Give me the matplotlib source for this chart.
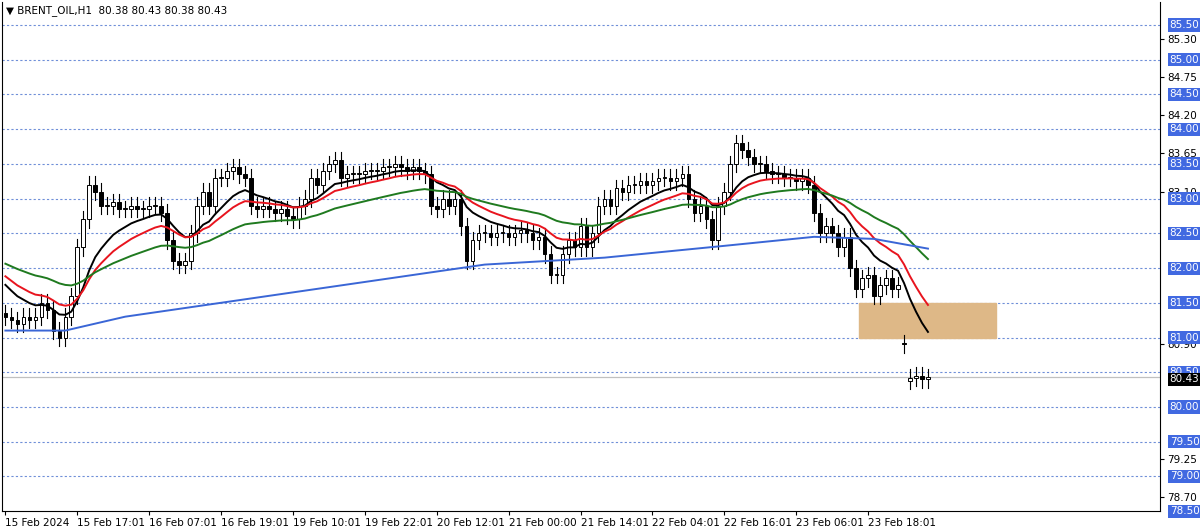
import matplotlib
matplotlib.use("Agg")
import matplotlib.pyplot as plt
from matplotlib.patches import Rectangle
import numpy as np

closes = [81.3,81.25,81.2,81.3,81.25,81.3,81.5,81.4,81.1,81.0,
          81.3,81.6,82.3,82.7,83.2,83.1,82.9,82.9,82.95,82.85,
          82.85,82.9,82.85,82.85,82.9,82.9,82.8,82.4,82.1,82.05,
          82.1,82.5,82.9,83.1,82.9,83.3,83.3,83.4,83.45,83.35,
          83.3,82.9,82.85,82.9,82.85,82.8,82.85,82.75,82.7,82.9,
          83.0,83.3,83.2,83.4,83.5,83.55,83.3,83.35,83.35,83.35,
          83.4,83.4,83.4,83.45,83.45,83.5,83.45,83.4,83.45,83.4,
          83.35,82.9,82.85,83.0,82.9,83.0,82.6,82.1,82.4,82.5,
          82.5,82.45,82.5,82.5,82.45,82.5,82.55,82.5,82.4,82.45,
          82.2,81.9,81.9,82.2,82.4,82.3,82.6,82.3,82.5,82.9,
          83.0,82.9,83.15,83.1,83.2,83.2,83.25,83.2,83.25,83.3,
          83.3,83.25,83.3,83.35,83.0,82.8,82.9,82.7,82.4,82.9,
          83.1,83.5,83.8,83.7,83.6,83.5,83.5,83.4,83.35,83.35,
          83.3,83.3,83.25,83.3,83.2,82.8,82.5,82.6,82.5,82.3,
          82.45,82.0,81.7,81.85,81.9,81.6,81.75,81.85,81.7,81.75,
          80.9,80.42,80.45,80.40,80.43]
opens = [81.35] + closes[:-1]
opens[150] = 80.92
opens[151] = 80.38
wick = 0.12

blue_idx = [0, 10, 20, 40, 60, 80, 100, 120, 135, 145, 154]
blue_val = [81.1, 81.1, 81.3, 81.55, 81.8, 82.05, 82.15, 82.32, 82.45, 82.42, 82.28]

date_labels = ["15 Feb 2024","15 Feb 17:01","16 Feb 07:01","16 Feb 19:01","19 Feb 10:01",
               "19 Feb 22:01","20 Feb 12:01","21 Feb 00:00","21 Feb 14:01","22 Feb 04:01",
               "22 Feb 16:01","23 Feb 06:01","23 Feb 18:01"]

boxed = [85.5,85.0,84.5,84.0,83.5,83.0,82.5,82.0,81.5,81.0,80.5,80.0,79.5,79.0,78.5]
plain = [85.30,84.75,84.20,83.65,83.10,80.90,79.25,78.70]

def ema(vals, span, seed):
    a = 2/(span+1); out=[]; e=seed
    for v in vals:
        e = e + a*(v-e); out.append(e)
    return out

fig = plt.figure(figsize=(12,5.28), dpi=100)
ax = fig.add_axes([0.002, 0.032, 0.965, 0.964])
ax.set_xlim(-0.5, 192.8)
ax.set_ylim(78.5, 85.83)

for lv in boxed[:-1]:
    ax.axhline(lv, color='#6f8fd8', lw=0.8, ls=(0,(2,2)), zorder=0)
ax.axhline(80.43, color='#c0c0c0', lw=0.9, zorder=0)

ax.add_patch(Rectangle((142.5, 81.0), 22.8, 0.5, color='#deb887', zorder=1))

for i,(o,c) in enumerate(zip(opens, closes)):
    hi = max(o,c)+wick; lo = min(o,c)-wick
    ax.plot([i,i],[lo,hi], color='black', lw=0.8, zorder=3)
    bull = c >= o
    h = max(abs(c-o), 0.015)
    ax.add_patch(Rectangle((i-0.3, min(o,c)), 0.6, h, facecolor='white' if bull else 'black',
                           edgecolor='black', lw=0.7, zorder=4))

xs = np.arange(len(closes))
ax.plot(xs, ema(closes, 11, 81.85), color='black', lw=1.4, zorder=5)
ax.plot(xs, ema(closes, 18, 81.95), color='#e8141e', lw=1.4, zorder=5)
ax.plot(xs, ema(closes, 42, 82.1), color='#1f7a1f', lw=1.4, zorder=5)
ax.plot(blue_idx, blue_val, color='#3a66d6', lw=1.4, zorder=5)

ax.yaxis.tick_right()
ax.set_yticks(plain)
ax.set_yticklabels([f"{v:.2f}" for v in plain], fontsize=7.5)
ax.tick_params(axis='y', length=3, pad=2)
for lv in boxed:
    ax.text(1.008, lv, f"{lv:.2f}", transform=ax.get_yaxis_transform(), fontsize=7.5,
            color='white', va='center', ha='left',
            bbox=dict(boxstyle='square,pad=0.15', fc='#4169e1', ec='none'), clip_on=False)
ax.text(1.008, 80.40, "80.43", transform=ax.get_yaxis_transform(), fontsize=7.5,
        color='white', va='center', ha='left',
        bbox=dict(boxstyle='square,pad=0.15', fc='black', ec='none'), clip_on=False)

ticks = [12*k for k in range(len(date_labels))]
ax.set_xticks(ticks)
ax.set_xticklabels(date_labels, fontsize=7.5, ha='left')
ax.tick_params(axis='x', length=3, pad=2)
ax.spines['top'].set_visible(False)
ax.text(0.003, 0.995, "▼ BRENT_OIL,H1  80.38 80.43 80.38 80.43", transform=ax.transAxes,
        fontsize=7.5, va='top', ha='left')
fig.savefig("out.png", dpi=100)
